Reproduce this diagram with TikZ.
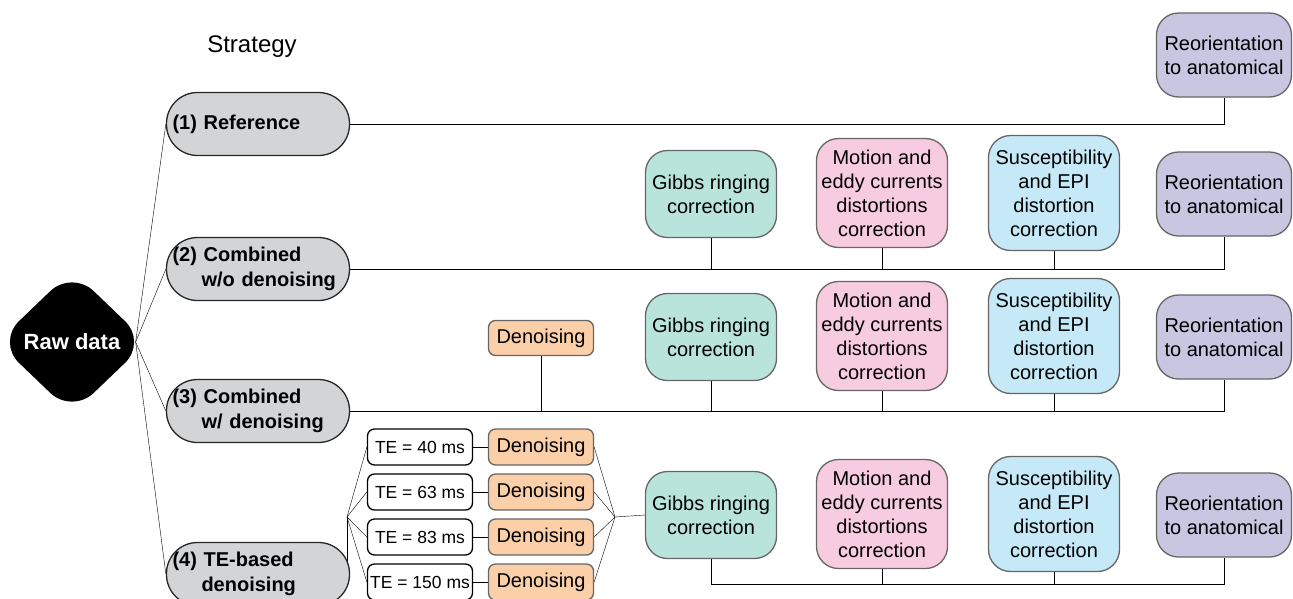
\documentclass[tikz,border=0pt]{standalone}
\usepackage{fontspec}
\setmainfont{Liberation Sans}
\usetikzlibrary{shapes.geometric,backgrounds}
\definecolor{pillgray}{RGB}{211,212,214}
\definecolor{gibbs}{RGB}{185,228,219}
\definecolor{motion}{RGB}{248,204,224}
\definecolor{suscept}{RGB}{198,233,247}
\definecolor{reorient}{RGB}{200,198,224}
\definecolor{denoise}{RGB}{251,207,168}
\newcommand\boxfont{\fontsize{20}{24}\selectfont}
\begin{document}
\begin{tikzpicture}[x=1pt,y=-1pt,line width=1.3pt,
  pill/.style={draw=black!85,fill=pillgray,rounded corners=31pt,minimum width=183pt,minimum height=63pt,
    text width=171pt,inner xsep=6pt,inner ysep=0pt,align=left,font=\bfseries\fontsize{20}{25}\selectfont},
  stepbox/.style={draw=black!60,rounded corners=22pt,minimum width=131pt,inner sep=2pt,align=center,font=\boxfont},
  dbox/.style={draw=black!60,fill=denoise,rounded corners=7pt,minimum width=105pt,minimum height=36pt,inner sep=0pt,font=\boxfont},
  tebox/.style={draw=black,fill=white,rounded corners=7pt,minimum width=105pt,minimum height=36pt,
    inner sep=0pt,font=\fontsize{17.5}{21}\selectfont}]
\useasboundingbox (0,0) rectangle (1293,598);
\clip (0,0) rectangle (1293,598);

\node[font=\fontsize{24}{28}\selectfont] (title) at (252,47) {Strategy};
\node[diamond,fill=black,minimum width=150pt,minimum height=144pt,rounded corners=30pt,inner sep=0pt,
  text=white,font=\bfseries\fontsize{22}{26}\selectfont] (raw) at (72,342) {Raw data};
\coordinate (rawtip) at ([xshift=-12pt]raw.east);

% strategies
\node[pill] (ref) at (258,124) {(1) Reference};
\node[pill] (comb) at (258,269) {(2) Combined\\\hspace*{29pt}w/o denoising};
\node[pill] (combd) at (258,411) {(3) Combined\\\hspace*{29pt}w/ denoising};
\node[pill] (teb) at (258,574) {(4) TE-based\\\hspace*{29pt}denoising};

% row 1
\node[stepbox,fill=reorient,minimum width=135pt,minimum height=84pt] (r1) at (1224,55) {Reorientation\\to anatomical};

% row 2
\node[stepbox,fill=gibbs,minimum height=87pt] (g2) at (711,194) {Gibbs ringing\\correction};
\node[stepbox,fill=motion,minimum height=109pt] (m2) at (882,193) {Motion and\\eddy currents\\distortions\\correction};
\node[stepbox,fill=suscept,minimum height=115pt] (s2) at (1054,193) {Susceptibility\\and EPI\\distortion\\correction};
\node[stepbox,fill=reorient,minimum width=135pt,minimum height=84pt] (r2) at (1224,194) {Reorientation\\to anatomical};

% row 3
\node[dbox,minimum height=35pt] (d3) at (541,338) {Denoising};
\node[stepbox,fill=gibbs,minimum height=87pt] (g3) at (711,337) {Gibbs ringing\\correction};
\node[stepbox,fill=motion,minimum height=109pt] (m3) at (882,336) {Motion and\\eddy currents\\distortions\\correction};
\node[stepbox,fill=suscept,minimum height=115pt] (s3) at (1054,336) {Susceptibility\\and EPI\\distortion\\correction};
\node[stepbox,fill=reorient,minimum width=135pt,minimum height=84pt] (r3) at (1224,337) {Reorientation\\to anatomical};

% row 4
\foreach \t [count=\i] in {40,63,83,150} {
  \node[tebox] (te\i) at (420,402+45*\i) {TE = \t\ ms};
  \node[dbox] (dn\i) at (541,402+45*\i) {Denoising};
}
\node[stepbox,fill=gibbs,minimum height=87pt] (g4) at (711,515) {Gibbs ringing\\correction};
\node[stepbox,fill=motion,minimum height=109pt] (m4) at (882,514) {Motion and\\eddy currents\\distortions\\correction};
\node[stepbox,fill=suscept,minimum height=115pt] (s4) at (1054,514) {Susceptibility\\and EPI\\distortion\\correction};
\node[stepbox,fill=reorient,minimum width=135pt,minimum height=84pt] (r4) at (1224,515) {Reorientation\\to anatomical};
\coordinate (fan) at (347,517);
\coordinate (merge) at (615,517);
\coordinate (bus4) at (711,584);

\begin{pgfonlayer}{background}
\foreach \p in {ref,comb,combd,teb} \draw (rawtip) -- (\p.west);
\draw (ref.east) -| (r1.south);
\draw (comb.east) -- (comb.east -| r2.south) -- (r2.south);
\foreach \b in {g2,m2,s2} \draw (\b.south) -- (\b.south |- comb.east);
\draw (combd.east) -| (r3.south);
\foreach \b in {d3,g3,m3,s3} \draw (\b.south) -- (\b.south |- combd.east);
\draw (fan) -- (fan |- teb.east);
\foreach \i in {1,...,4} {
  \draw (fan) -- (te\i.west);
  \draw (te\i.east) -- (dn\i.west);
  \draw (dn\i.east) -- (merge);
}
\draw (merge) -- (g4.west);
\draw (g4.south) -- (g4.south |- bus4) -| (r4.south);
\foreach \b in {m4,s4} \draw (\b.south) -- (\b.south |- bus4);
\end{pgfonlayer}
\end{tikzpicture}
\end{document}
